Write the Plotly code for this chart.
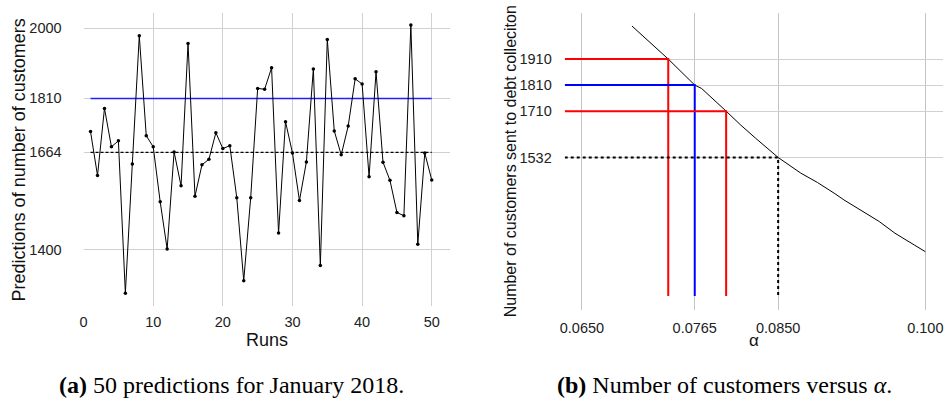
import plotly.graph_objects as go

# ---------- Panel (a): 50 predictions ----------
runs = list(range(1, 51))
predictions = [1720, 1601, 1783, 1679, 1695, 1282, 1632, 1980, 1709, 1679,
               1530, 1402, 1665, 1573, 1959, 1545, 1630, 1645, 1717, 1674,
               1682, 1541, 1316, 1541, 1837, 1835, 1893, 1445, 1747, 1662,
               1533, 1638, 1890, 1357, 1970, 1722, 1657, 1735, 1863, 1849,
               1598, 1882, 1637, 1588, 1501, 1492, 2009, 1415, 1662, 1589]
target_value = 1810
mean_value = 1664
a_xticks = [0, 10, 20, 30, 40, 50]
a_yticks = [1400, 1664, 1810, 2000]

# ---------- Panel (b): customers vs alpha ----------
alpha_curve = [0.0701, 0.0738, 0.0765, 0.0772, 0.0797, 0.0812, 0.0827, 0.0850,
               0.0873, 0.0890, 0.0907, 0.0917, 0.0953, 0.0969, 0.1000]
count_curve = [2037, 1910, 1810, 1797, 1710, 1656, 1606, 1532,
               1472, 1436, 1395, 1369, 1286, 1241, 1170]
ref_alpha = [0.0738, 0.0765, 0.0797, 0.0850]
ref_count = [1910, 1810, 1710, 1532]
ref_color = ["#ff0000", "#0000ff", "#ff0000", "#000000"]
ref_dash = ["solid", "solid", "solid", "dot"]
b_baseline = 1000
b_xticks = [0.0650, 0.0765, 0.0850, 0.100]
b_xticklabels = ["0.0650", "0.0765", "0.0850", "0.100"]
b_yticks = [1532, 1710, 1810, 1910]
b_xmin = 0.06325

W, H = 945, 401
def px(x):
    return x / W
def py(y):
    return 1 - y / H

FONT = "Liberation Sans, Arial, Helvetica, sans-serif"
SERIF = "Liberation Serif, Times New Roman, serif"
GRID = "#d0d0d0"

fig = go.Figure()

# panel a traces
fig.add_trace(go.Scatter(x=[runs[0], runs[-1]], y=[target_value, target_value],
                         mode="lines", line=dict(color="#2020ff", width=1.5),
                         xaxis="x", yaxis="y", showlegend=False, hoverinfo="skip"))
fig.add_trace(go.Scatter(x=[runs[0], runs[-1]], y=[mean_value, mean_value],
                         mode="lines", line=dict(color="black", width=1.2, dash="3px,2px"),
                         xaxis="x", yaxis="y", showlegend=False, hoverinfo="skip"))
fig.add_trace(go.Scatter(x=runs, y=predictions, mode="lines+markers",
                         line=dict(color="black", width=1),
                         marker=dict(color="black", size=3.5),
                         xaxis="x", yaxis="y", showlegend=False))

# panel b traces
fig.add_trace(go.Scatter(x=alpha_curve, y=count_curve, mode="lines",
                         line=dict(color="black", width=1),
                         xaxis="x2", yaxis="y2", showlegend=False))
for a, c, col, d in zip(ref_alpha, ref_count, ref_color, ref_dash):
    fig.add_trace(go.Scatter(x=[b_xmin, a, a], y=[c, c, b_baseline], mode="lines",
                             line=dict(color=col, width=2, dash=d),
                             xaxis="x2", yaxis="y2", showlegend=False, hoverinfo="skip"))

axis_common = dict(showline=False, zeroline=False, showgrid=True, gridcolor=GRID,
                   gridwidth=1.3, ticks="", tickfont=dict(family=FONT, size=14.5, color="#222"))

fig.update_layout(
    width=W, height=H,
    margin=dict(l=0, r=0, t=0, b=0),
    paper_bgcolor="white", plot_bgcolor="white",
    xaxis=dict(domain=[px(79), px(447)], range=[0, 52.57], tickvals=a_xticks,
               anchor="y", ticklabelstandoff=5, **axis_common),
    yaxis=dict(domain=[py(306), py(13)], range=[1247.4, 2041.5], tickvals=a_yticks,
               anchor="x", ticklabelstandoff=21, **axis_common),
    xaxis2=dict(domain=[px(562.7), px(943)], range=[b_xmin, 0.1018], tickvals=b_xticks,
                ticktext=b_xticklabels, anchor="y2", ticklabelstandoff=7, **axis_common),
    yaxis2=dict(domain=[py(310), py(13)], range=[946, 2087], tickvals=b_yticks,
                anchor="x2", ticklabelstandoff=12, **axis_common),
)
fig.update_xaxes(selector=dict(anchor="y2"), gridcolor="#c4c4c4")

annotations = [
    dict(text="Predictions of number of customers", x=px(14), y=py(159.5), textangle=-90,
         font=dict(family=FONT, size=18, color="#111")),
    dict(text="Runs", x=px(263), y=py(340), font=dict(family=FONT, size=18, color="#111")),
    dict(text="Number of customers sent to debt colleciton", x=px(508.5), y=py(161.5),
         textangle=-90, font=dict(family=FONT, size=16, color="#111")),
    dict(text="α", x=px(752.8), y=py(340), font=dict(family=FONT, size=17, color="#111")),
    dict(text="<b>(a)</b> 50 predictions for January 2018.", x=px(228), y=py(384.5),
         font=dict(family=SERIF, size=24, color="black")),
    dict(text="<b>(b)</b> Number of customers versus <i>α</i>.", x=px(723), y=py(384.5),
         font=dict(family=SERIF, size=24, color="black")),
]
for a in annotations:
    a.update(xref="paper", yref="paper", showarrow=False, xanchor="center", yanchor="middle")
fig.update_layout(annotations=annotations)

fig.write_html("out.html")
